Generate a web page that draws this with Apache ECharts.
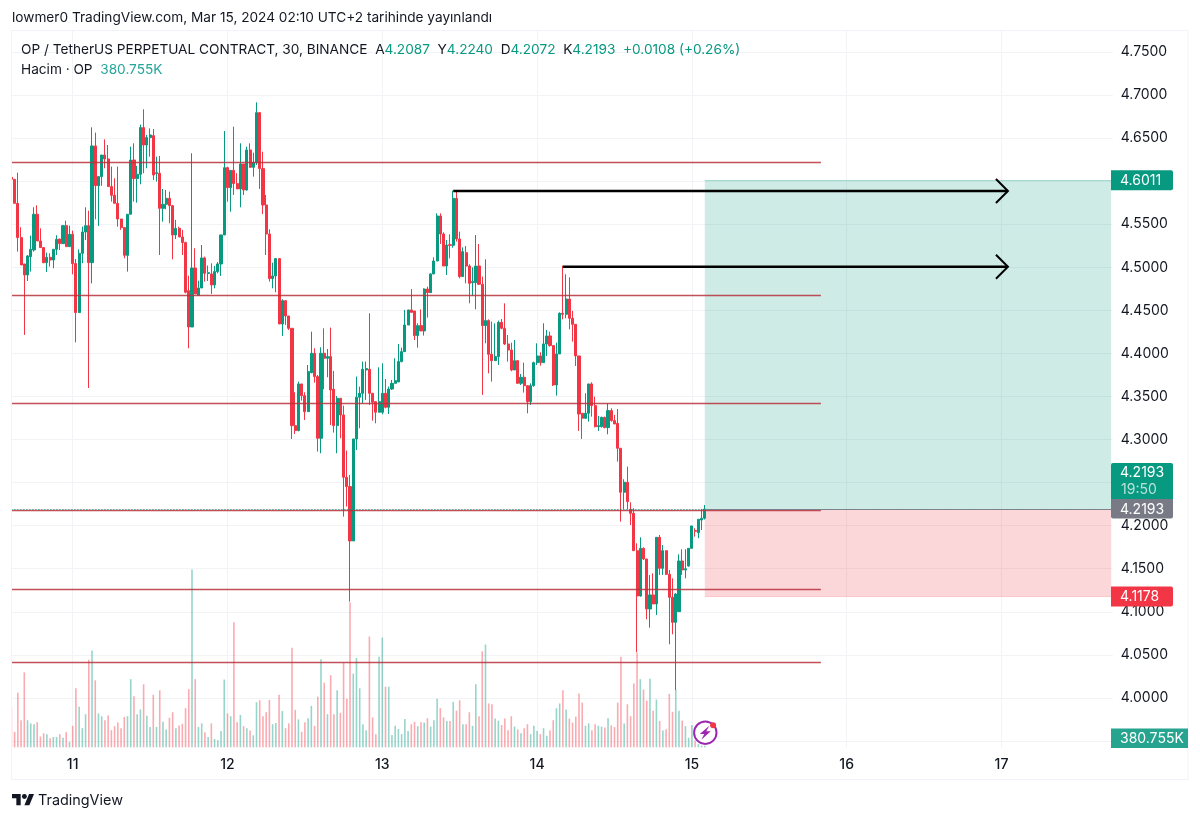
<!DOCTYPE html>
<html>
<head>
<meta charset="utf-8">
<title>OP / TetherUS</title>
<style>
html, body { margin: 0; padding: 0; background: #fff; }
#chart { width: 1200px; height: 820px; }
</style>
<script src="https://cdn.jsdelivr.net/npm/echarts@6/dist/echarts.min.js"></script>
</head>
<body>
<div id="chart"></div>
<script>
var opens = [4.6045,4.6022,4.5743,4.5345,4.5039,4.4911,4.5124,4.5201,4.5616,4.5306,4.5229,4.5054,4.5116,4.5085,4.5209,4.5329,4.5275,4.5484,4.5240,4.5383,
4.5043,4.4474,4.5163,4.5410,4.5484,4.5054,4.6409,4.5948,4.6053,4.6304,4.6258,4.5937,4.5836,4.5743,4.5561,4.5461,4.5139,4.5616,4.6246,4.6030,
4.6080,4.6622,4.6420,4.6506,4.6529,4.6088,4.6092,4.5685,4.5732,4.5801,4.5716,4.5376,4.5453,4.5352,4.5287,4.4729,4.4307,4.4992,4.4675,4.4760,
4.5109,4.4927,4.4923,4.4795,4.4950,4.5039,4.5376,4.6157,4.5925,4.6126,4.5972,4.5910,4.6200,4.5898,4.6362,4.6161,4.6215,4.6796,4.6146,4.5724,
4.5387,4.4869,4.4900,4.5101,4.4342,4.4613,4.4435,4.4292,4.3162,4.3104,4.3646,4.3510,4.3324,4.3777,4.4002,4.3731,4.3015,4.4002,4.3944,4.3963,
4.3584,4.3162,4.3479,4.3286,4.2562,4.2454,4.1823,4.3007,4.3491,4.3537,4.3808,4.3816,4.3537,4.3440,4.3317,4.3317,4.3537,4.3375,4.3587,4.3653,
4.3669,4.3905,4.4021,4.4330,4.4505,4.4493,4.4207,4.4323,4.4261,4.4748,4.4706,4.4923,4.5073,4.5596,4.5387,4.5015,4.5263,4.5255,4.5801,4.5329,
4.4892,4.5170,4.5015,4.4822,4.4822,4.5015,4.4803,4.4323,4.4381,4.3990,4.3916,4.3963,4.4361,4.4292,4.4110,4.4040,4.3808,4.3916,4.3653,4.3723,
4.3626,4.3440,4.3626,4.3893,4.3971,4.3893,4.4110,4.4203,4.4091,4.3634,4.3994,4.4466,4.4454,4.4632,4.4408,4.4338,4.3971,4.3305,4.3247,4.3305,
4.3646,4.3394,4.3150,4.3150,4.3258,4.3139,4.3336,4.3220,4.3189,4.2899,4.2388,4.2504,4.2190,4.2144,4.1710,4.1184,4.1737,4.1614,4.1033,4.1196,
4.1091,4.1865,4.1505,4.1710,4.1436,4.1169,4.0878,4.1002,4.1590,4.1486,4.1532,4.1737,4.1943,4.1919,4.2066,4.2087];
var highs = [4.6324,4.6022,4.6099,4.5465,4.5039,4.5143,4.5368,4.5697,4.5720,4.5453,4.5229,4.5170,4.5163,4.5209,4.5372,4.5329,4.5484,4.5542,4.5484,4.5426,
4.5097,4.5209,4.5472,4.5697,4.5658,4.6626,4.6564,4.6053,4.6304,4.6486,4.6420,4.6169,4.6033,4.6169,4.5561,4.5461,4.5616,4.6401,4.6440,4.6177,
4.6657,4.6835,4.6537,4.6614,4.6606,4.6285,4.6293,4.5910,4.5898,4.5879,4.5724,4.5550,4.5472,4.5434,4.5298,4.4903,4.6324,4.5221,4.4845,4.5259,
4.5124,4.5020,4.5047,4.5016,4.5062,4.5376,4.6583,4.6169,4.6126,4.6633,4.6092,4.6440,4.6200,4.6401,4.6440,4.6331,4.6916,4.6796,4.6343,4.5840,
4.5441,4.5054,4.5105,4.5101,4.4629,4.4613,4.4435,4.4292,4.3549,4.3673,4.3646,4.3549,4.3866,4.4253,4.4060,4.3750,4.4071,4.4292,4.4052,4.4300,
4.3797,4.3506,4.3479,4.3394,4.2872,4.2589,4.3007,4.3731,4.3615,4.3905,4.3905,4.4466,4.3537,4.3440,4.3839,4.3885,4.3703,4.3615,4.3692,4.3943,
4.4110,4.4067,4.4505,4.4505,4.4748,4.4493,4.4350,4.4512,4.4756,4.4775,4.4930,4.5116,4.5627,4.5627,4.5406,4.5317,4.5383,4.5890,4.5890,4.5414,
4.5232,4.5248,4.5035,4.5000,4.5375,4.5271,4.4892,4.5093,4.4396,4.4369,4.4350,4.4381,4.4400,4.4582,4.4214,4.4125,4.4156,4.3916,4.3762,4.3893,
4.3626,4.3653,4.3905,4.4118,4.4013,4.4350,4.4272,4.4253,4.4091,4.4125,4.4477,4.5019,4.4919,4.4884,4.4493,4.4338,4.3971,4.3305,4.3537,4.3646,
4.3665,4.3498,4.3274,4.3266,4.3266,4.3421,4.3363,4.3286,4.3355,4.2899,4.2539,4.2686,4.2272,4.2202,4.1796,4.1865,4.1749,4.1614,4.1428,4.1447,
4.1865,4.1892,4.1776,4.1710,4.1486,4.1389,4.1215,4.1668,4.1726,4.1726,4.1737,4.1997,4.1970,4.2074,4.2194,4.2240];
var lows = [4.6014,4.5743,4.5182,4.5027,4.4215,4.4841,4.4950,4.5182,4.5306,4.5229,4.5047,4.4946,4.5008,4.4989,4.5143,4.5201,4.5271,4.5240,4.5240,4.4919,
4.4129,4.4474,4.5047,4.5317,4.3599,4.4814,4.5557,4.5480,4.5948,4.6150,4.5937,4.5763,4.5743,4.5472,4.5434,4.5105,4.4950,4.5616,4.5763,4.5751,
4.5964,4.6092,4.6150,4.6285,4.6014,4.5995,4.5143,4.5530,4.5674,4.5511,4.5093,4.5329,4.5352,4.5143,4.4698,4.4060,4.4307,4.4691,4.4675,4.4760,
4.4834,4.4841,4.4691,4.4756,4.4930,4.4900,4.5376,4.5763,4.5646,4.5840,4.5910,4.5697,4.5840,4.5890,4.6157,4.6053,4.6188,4.5910,4.5619,4.5143,
4.4834,4.4756,4.4710,4.4342,4.4203,4.4331,4.4273,4.3007,4.3065,4.3096,4.3452,4.3228,4.3324,4.3770,4.3661,4.2860,4.2841,4.3584,4.3723,4.3170,
4.3081,4.2841,4.3015,4.2105,4.2222,4.1119,4.1823,4.2879,4.3131,4.3421,4.3460,4.3402,4.3220,4.3189,4.3317,4.3293,4.3363,4.3297,4.3576,4.3653,
4.3669,4.3897,4.4021,4.4330,4.4477,4.4156,4.4067,4.4261,4.4207,4.4416,4.4729,4.4923,4.5073,4.5271,4.5015,4.4911,4.5104,4.5228,4.5298,4.4872,
4.4892,4.4814,4.4582,4.4667,4.4512,4.4795,4.3518,4.4118,4.3769,4.3673,4.3916,4.3866,4.4280,4.4098,4.3905,4.3793,4.3808,4.3653,4.3634,4.3545,
4.3305,4.3402,4.3615,4.3866,4.3858,4.3893,4.3971,4.4079,4.3622,4.3510,4.3994,4.4396,4.4408,4.4280,4.4137,4.3854,4.3100,4.3007,4.3247,4.3208,
4.3266,4.3142,4.3100,4.3139,4.3131,4.3061,4.3208,4.3181,4.2744,4.2047,4.2190,4.2190,4.2008,4.1710,4.0530,4.1176,4.1602,4.0913,4.0816,4.1091,
4.0963,4.1428,4.1428,4.1428,4.0623,4.0739,4.0093,4.1002,4.1428,4.1389,4.1525,4.1737,4.1873,4.1854,4.1950,4.2072];
var closes = [4.6022,4.5743,4.5345,4.5027,4.4911,4.5132,4.5209,4.5616,4.5306,4.5229,4.5054,4.5116,4.5085,4.5209,4.5325,4.5275,4.5484,4.5240,4.5383,4.5043,
4.4474,4.5163,4.5410,4.5484,4.5054,4.6409,4.5948,4.6053,4.6304,4.6258,4.5937,4.5836,4.5743,4.5561,4.5461,4.5139,4.5616,4.6246,4.6030,4.6080,
4.6622,4.6420,4.6506,4.6537,4.6072,4.6099,4.5685,4.5732,4.5801,4.5716,4.5376,4.5453,4.5352,4.5287,4.4710,4.4307,4.4992,4.4691,4.4760,4.5109,
4.4930,4.4938,4.4795,4.4950,4.5039,4.5376,4.6157,4.5925,4.6126,4.5972,4.5910,4.6200,4.5898,4.6362,4.6161,4.6215,4.6796,4.6146,4.5724,4.5387,
4.4869,4.4900,4.5101,4.4342,4.4613,4.4435,4.4292,4.3162,4.3104,4.3646,4.3510,4.3324,4.3789,4.4002,4.3731,4.3015,4.4002,4.3944,4.3963,4.3576,
4.3162,4.3479,4.3286,4.2562,4.2454,4.1823,4.3007,4.3491,4.3537,4.3816,4.3824,4.3537,4.3433,4.3317,4.3440,4.3537,4.3375,4.3587,4.3653,4.3684,
4.3905,4.4021,4.4330,4.4505,4.4477,4.4207,4.4323,4.4261,4.4748,4.4706,4.4923,4.5073,4.5596,4.5387,4.5015,4.5259,4.5255,4.5801,4.5329,4.4892,
4.5182,4.5015,4.4814,4.4834,4.5015,4.4803,4.4323,4.4381,4.3990,4.3916,4.3963,4.4361,4.4292,4.4110,4.4040,4.3808,4.3916,4.3653,4.3723,4.3626,
4.3440,4.3626,4.3893,4.3971,4.3893,4.4110,4.4203,4.4091,4.3634,4.3994,4.4466,4.4454,4.4632,4.4408,4.4338,4.3971,4.3297,4.3247,4.3305,4.3646,
4.3394,4.3150,4.3162,4.3258,4.3139,4.3336,4.3220,4.3181,4.2899,4.2388,4.2504,4.2279,4.2144,4.1710,4.1184,4.1737,4.1614,4.1033,4.1196,4.1091,
4.1865,4.1505,4.1710,4.1436,4.1169,4.0878,4.1207,4.1590,4.1486,4.1500,4.1737,4.1997,4.1935,4.2074,4.2086,4.2193];
var volumes = [9.8,3.9,13.7,6.8,18.8,6.8,6.0,5.8,6.3,2.7,3.5,3.3,2.3,2.6,2.6,3.3,2.4,3.8,1.4,5.4,
14.8,10.2,4.8,8.3,22.0,24.3,16.8,8.5,7.8,6.8,8.0,4.3,5.3,6.2,4.8,7.6,7.8,17.1,12.8,8.3,
9.5,15.8,7.9,5.1,13.2,5.1,14.3,6.4,4.5,7.4,8.8,4.8,5.5,5.9,9.8,14.6,44.6,17.1,5.1,6.0,
3.8,2.6,6.0,2.1,1.8,4.1,17.0,8.5,7.8,31.4,6.3,8.1,5.3,4.8,4.2,3.0,11.3,11.8,7.8,8.8,
11.9,5.8,6.1,13.2,9.1,4.8,6.0,25.0,9.4,7.0,3.9,6.3,7.3,10.4,5.4,12.7,22.1,16.2,8.3,18.1,
8.3,14.3,8.6,21.2,12.2,36.4,18.5,22.4,14.8,5.8,4.3,27.8,7.5,3.3,22.7,27.5,15.2,15.2,3.1,5.4,
4.6,3.3,7.1,4.1,5.8,6.4,5.3,6.3,6.2,7.3,5.2,6.8,12.2,9.8,7.5,6.6,6.6,11.4,9.2,11.8,
5.8,5.8,8.8,5.4,15.8,7.8,24.1,25.8,11.0,10.8,7.2,6.7,5.6,7.2,4.3,7.8,5.2,4.5,3.5,4.8,
5.8,3.3,5.4,4.1,3.3,4.8,2.9,4.2,6.8,9.8,11.0,14.3,9.5,7.2,6.2,7.7,13.5,11.2,5.4,6.0,
4.3,5.8,5.4,5.2,5.0,7.3,5.5,5.1,11.2,22.7,6.0,10.8,7.8,16.0,23.7,17.1,14.5,11.7,17.2,9.2,
12.0,6.6,4.2,4.5,13.4,8.9,14.5,9.2,6.7,5.3,2.4,5.6,1.7,0.8,0.4,0.38];

var levelPrices = [4.6215, 4.4671, 4.3425, 4.2182, 4.1265, 4.0409];
var levelEndIndex = 251;
var lastPrice = 4.2193;
var targetPrice = 4.6011;
var stopPrice = 4.1178;
var positionStartIndex = 215;
var arrowStartIndex = [137, 171];
var arrowEndIndex = [309, 309];
var arrowPrices = [4.5886, 4.5007];
var dayIndex = [19, 67, 115, 163, 211, 259, 307];
var dayLabels = ['11', '12', '13', '14', '15', '16', '17'];
var barCount = 342;
var volumeLabel = '380.755K';
var countdownLabel = '19:50';
var titleText = 'lowmer0 TradingView.com, Mar 15, 2024 02:10 UTC+2 tarihinde yayınlandı';
var symbolText = 'OP / TetherUS PERPETUAL CONTRACT, 30, BINANCE';
var ohlcLetters = ['A', 'Y', 'D', 'K'];
var ohlcValues = ['4.2087', '4.2240', '4.2072', '4.2193'];
var changeText = '+0.0108 (+0.26%)';

var UP = '#089981';
var DOWN = '#f23645';
var INK = '#131722';
var GRID_LINE = '#f2f3f6';
var FONT = 'Inter, "Noto Sans", sans-serif';

var categories = [];
for (var i = 0; i < barCount; i++) {
    categories.push(String(i));
}

var candleData = opens.map(function(o, idx) {
    return [o, closes[idx], lows[idx], highs[idx]];
});

var volumeData = volumes.map(function(v, idx) {
    return {
        value: v,
        itemStyle: {
            color: closes[idx] >= opens[idx] ? 'rgba(8,153,129,0.42)' : 'rgba(242,54,69,0.42)'
        }
    };
});

function levelLine(start, end, price, style) {
    return [{ coord: [start, price], lineStyle: style }, { coord: [end, price] }];
}

var myChart = echarts.init(document.getElementById('chart'), null, { renderer: 'canvas' });

var lines = levelPrices.map(function(p) {
    return levelLine(0, levelEndIndex, p, { color: '#b8303b', width: 1.3, type: 'solid', opacity: 0.85 });
});
lines.push(levelLine(0, barCount - 1, lastPrice, { color: UP, width: 1, type: [1, 2], opacity: 1 }));
lines.push(levelLine(positionStartIndex, barCount - 1, lastPrice, { color: '#787b86', width: 1, type: 'solid', opacity: 0.9 }));
lines.push(levelLine(positionStartIndex, barCount - 1, targetPrice, { color: UP, width: 1, type: 'solid', opacity: 0.25 }));
lines.push(levelLine(positionStartIndex, barCount - 1, stopPrice, { color: DOWN, width: 1, type: 'solid', opacity: 0.2 }));

myChart.setOption({
    animation: false,
    backgroundColor: '#ffffff',
    textStyle: { fontFamily: FONT },
    grid: [
        { left: 9.79, right: 87.25, top: 52, bottom: 79 },
        { left: 9.79, right: 87.25, top: 30, bottom: 72.7 }
    ],
    xAxis: [{
        type: 'category',
        gridIndex: 0,
        data: categories,
        axisLine: { show: false },
        axisTick: { show: false },
        axisLabel: { show: false },
        splitLine: { show: false }
    }, {
        type: 'category',
        gridIndex: 1,
        data: categories,
        axisLine: { show: false },
        axisTick: { show: false },
        axisLabel: {
            color: INK,
            fontSize: 14,
            fontWeight: 500,
            margin: 10,
            fontFamily: FONT,
            interval: function(idx) {
                return dayIndex.indexOf(idx) >= 0;
            },
            formatter: function(value, idx) {
                return dayLabels[dayIndex.indexOf(idx)];
            }
        },
        splitLine: {
            show: true,
            alignWithLabel: true,
            interval: function(idx) {
                return dayIndex.indexOf(idx) >= 0;
            },
            lineStyle: { color: GRID_LINE, width: 1 }
        }
    }],
    yAxis: [{
        type: 'value',
        gridIndex: 0,
        position: 'right',
        min: 3.95,
        max: 4.75,
        interval: 0.05,
        axisLine: { show: false },
        axisTick: { show: false },
        axisLabel: {
            color: INK,
            fontSize: 14,
            margin: 8,
            lineHeight: 14,
            padding: [6, 0, 0, 0],
            fontFamily: FONT,
            formatter: function(v) {
                return v.toFixed(4);
            }
        },
        splitLine: { show: true, lineStyle: { color: GRID_LINE, width: 1 } }
    }, {
        type: 'value',
        gridIndex: 1,
        position: 'left',
        min: 0,
        max: 180,
        axisLine: { show: false },
        axisTick: { show: false },
        axisLabel: { show: false },
        splitLine: { show: false }
    }],
    series: [{
        name: 'Hacim',
        type: 'bar',
        xAxisIndex: 1,
        yAxisIndex: 1,
        barWidth: 1.6,
        data: volumeData,
        z: 1
    }, {
        name: 'Position',
        type: 'line',
        xAxisIndex: 0,
        yAxisIndex: 0,
        data: [],
        z: 2,
        markArea: {
            silent: true,
            data: [
                [{ coord: [positionStartIndex, targetPrice], itemStyle: { color: 'rgba(8,153,129,0.2)' } }, { coord: [barCount - 1, lastPrice] }],
                [{ coord: [positionStartIndex, lastPrice], itemStyle: { color: 'rgba(242,54,69,0.2)' } }, { coord: [barCount - 1, stopPrice] }]
            ]
        }
    }, {
        name: 'OP',
        type: 'candlestick',
        xAxisIndex: 0,
        yAxisIndex: 0,
        barWidth: 2.6,
        data: candleData,
        z: 3,
        itemStyle: {
            color: UP,
            color0: DOWN,
            borderColor: UP,
            borderColor0: DOWN,
            borderWidth: 1
        },
        markLine: {
            silent: true,
            symbol: 'none',
            animation: false,
            label: { show: false },
            data: lines
        }
    }]
});

function px(idx) {
    return myChart.convertToPixel({ xAxisIndex: 0 }, idx);
}
function py(price) {
    return myChart.convertToPixel({ yAxisIndex: 0 }, price);
}

function priceBadge(price, color, label) {
    var y = py(price);
    return [{
        type: 'rect', z: 50,
        shape: { x: 1111, y: y - 10, width: 62, height: 20, r: [0, 2, 2, 0] },
        style: { fill: color }
    }, {
        type: 'text', z: 51,
        style: { x: 1120, y: y + 0.5, text: label, fill: '#fff', font: '14px ' + FONT, verticalAlign: 'middle' }
    }];
}

var graphics = [];

// white gutter + frame
graphics.push({
    type: 'rect', z: 40,
    shape: { x: 0, y: 20, width: 11, height: 770 },
    style: { fill: '#fff' }
});
graphics.push({
    type: 'rect', z: 41,
    shape: { x: 11.5, y: 30.5, width: 1176.5, height: 749 },
    style: { fill: 'none', stroke: '#f0f3fa', lineWidth: 1 }
});

// arrows
arrowPrices.forEach(function(p, k) {
    var y = py(p);
    var x0 = px(arrowStartIndex[k]);
    var x1 = px(arrowEndIndex[k]);
    graphics.push({
        type: 'polyline', z: 30,
        shape: { points: [[x0, y], [x1, y]] },
        style: { stroke: '#000', lineWidth: 2.4, fill: 'none' }
    });
    graphics.push({
        type: 'polyline', z: 30,
        shape: { points: [[x1 - 12, y - 12], [x1, y], [x1 - 12, y + 12]] },
        style: { stroke: '#000', lineWidth: 2, fill: 'none' }
    });
});

// price badges
graphics = graphics.concat(priceBadge(targetPrice, UP, targetPrice.toFixed(4)));
graphics = graphics.concat(priceBadge(stopPrice, DOWN, stopPrice.toFixed(4)));

var lastY = py(lastPrice);
graphics.push({
    type: 'rect', z: 50,
    shape: { x: 1111, y: lastY - 46, width: 62, height: 36, r: [2, 2, 0, 0] },
    style: { fill: UP }
}, {
    type: 'text', z: 51,
    style: { x: 1120, y: lastY - 36.5, text: lastPrice.toFixed(4), fill: '#fff', font: '14px ' + FONT, verticalAlign: 'middle' }
}, {
    type: 'text', z: 51,
    style: { x: 1121, y: lastY - 19.5, text: countdownLabel, fill: '#b9e1da', font: '14px ' + FONT, verticalAlign: 'middle' }
}, {
    type: 'rect', z: 50,
    shape: { x: 1111, y: lastY - 10, width: 62, height: 19.5, r: [0, 0, 2, 2] },
    style: { fill: '#787b86' }
}, {
    type: 'text', z: 51,
    style: { x: 1120, y: lastY + 0.5, text: lastPrice.toFixed(4), fill: '#fff', font: '14px ' + FONT, verticalAlign: 'middle' }
});

// volume badge
graphics.push({
    type: 'rect', z: 50,
    shape: { x: 1111, y: 728.5, width: 77, height: 19.5 },
    style: { fill: '#26a48f' }
}, {
    type: 'text', z: 51,
    style: { x: 1120, y: 739, text: volumeLabel, fill: '#fff', font: '14px ' + FONT, verticalAlign: 'middle' }
});

// top texts
graphics.push({
    type: 'text', z: 60,
    style: { x: 12, y: 18, text: titleText, fill: INK, font: '13.65px ' + FONT, verticalAlign: 'middle' }
});

var ohlcRich = { d: { fill: INK, font: '13.65px ' + FONT }, g: { fill: '#089981', font: '13.65px ' + FONT } };
var ohlcText = '{d|' + symbolText + '  }';
ohlcLetters.forEach(function(l, k) {
    ohlcText += '{d|' + l + '}{g|' + ohlcValues[k] + '  }';
});
ohlcText += '{g|' + changeText + '}';
graphics.push({
    type: 'text', z: 60,
    style: { x: 21, y: 49.5, text: ohlcText, rich: ohlcRich, verticalAlign: 'middle' }
});
graphics.push({
    type: 'text', z: 60,
    style: {
        x: 21, y: 69.5,
        text: '{d|Hacim · OP  }{v|' + volumeLabel + '}',
        rich: { d: { fill: INK, font: '13.65px ' + FONT }, v: { fill: '#26a69a', font: '13.65px ' + FONT } },
        verticalAlign: 'middle'
    }
});

// TradingView logo
graphics.push({
    type: 'group', x: 12, y: 791.5, scaleX: 0.62, scaleY: 0.62,
    children: [{
        type: 'polygon', z: 60,
        shape: { points: [[14, 22], [7, 22], [7, 11], [0, 11], [0, 4], [14, 4]] },
        style: { fill: INK }
    }, {
        type: 'polygon', z: 60,
        shape: { points: [[28, 22], [20, 22], [27.5, 4], [35.5, 4]] },
        style: { fill: INK }
    }, {
        type: 'circle', z: 60,
        shape: { cx: 20, cy: 8, r: 4 },
        style: { fill: INK }
    }]
});
graphics.push({
    type: 'text', z: 60,
    style: { x: 38, y: 801, text: 'TradingView', fill: INK, font: '14.4px ' + FONT, verticalAlign: 'middle' }
});

// lightning badge
graphics.push({
    type: 'group', x: 705.3, y: 732.7,
    children: [{
        type: 'circle', z: 60,
        shape: { cx: 0, cy: 0, r: 11.2 },
        style: { fill: '#fff', stroke: '#9c27b0', lineWidth: 2 }
    }, {
        type: 'polygon', z: 61,
        shape: { points: [[4, -7], [-5.5, 1.2], [-1, 1.2], [-4, 7], [5.5, -1.4], [1, -1.4]] },
        style: { fill: '#9c27b0' }
    }, {
        type: 'circle', z: 61,
        shape: { cx: 7.8, cy: -7.5, r: 3 },
        style: { fill: DOWN }
    }]
});

myChart.setOption({ graphic: graphics });
</script>
</body>
</html>
